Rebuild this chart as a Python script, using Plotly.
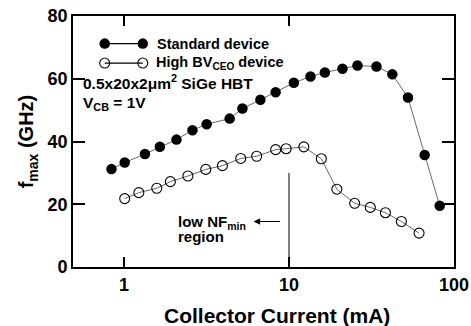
import numpy as np
import plotly.graph_objects as go

# Standard device
std_current = [0.84, 1.01, 1.34, 1.65, 2.08, 2.60, 3.17, 4.37, 5.22, 6.71, 8.30, 10.7, 13.5, 16.5, 21.1, 26.0, 33.9, 42.3, 52.6, 66.4, 81.9]
std_fmax = [31.2, 33.3, 36.0, 38.3, 40.6, 43.6, 45.5, 47.3, 50.5, 53.3, 55.7, 58.7, 60.7, 62.0, 63.2, 64.2, 63.9, 61.4, 54.0, 35.7, 19.5]

# High BVCEO device
hbv_current = [1.01, 1.23, 1.58, 1.91, 2.44, 3.13, 3.95, 5.10, 6.37, 8.30, 9.61, 12.3, 15.7, 19.5, 25.0, 31.1, 38.4, 48.0, 61.4]
hbv_fmax = [21.8, 23.7, 25.1, 27.2, 29.0, 31.1, 32.3, 34.6, 35.3, 37.4, 37.7, 38.3, 34.5, 24.8, 20.3, 19.0, 17.3, 14.5, 10.8]

x_ticks = [1, 10, 100]
y_ticks = [0, 20, 40, 60, 80]

FONT = "Liberation Sans"
fig = go.Figure()
fig.add_trace(go.Scatter(x=std_current, y=std_fmax, mode="lines+markers",
                         line=dict(color="black", width=0.6),
                         marker=dict(symbol="circle", size=10.5, color="black"),
                         showlegend=False))
fig.add_trace(go.Scatter(x=hbv_current, y=hbv_fmax, mode="lines+markers",
                         line=dict(color="black", width=0.6),
                         marker=dict(symbol="circle-open", size=10, color="black", line=dict(width=1.1)),
                         showlegend=False))

# legend samples
fig.add_trace(go.Scatter(x=[0.764, 1.30], y=[71.2, 71.2], mode="lines+markers",
                         line=dict(color="black", width=1.2),
                         marker=dict(symbol="circle", size=10.5, color="black"), showlegend=False,
                         hoverinfo="skip"))
fig.add_trace(go.Scatter(x=[0.764, 1.30], y=[65.0, 65.0], mode="lines+markers",
                         line=dict(color="black", width=1.2),
                         marker=dict(symbol="circle-open", size=10, color="black", line=dict(width=1.1)),
                         showlegend=False, hoverinfo="skip"))

def tfont(s):
    return dict(family=FONT, size=s, color="black", weight="bold")

anns = [
    dict(x=np.log10(1.55), y=71.2, text="Standard device", xanchor="left", yanchor="middle", showarrow=False, font=tfont(14.5)),
    dict(x=np.log10(1.51), y=65.0, text="High BV<sub>CEO</sub> device", xanchor="left", yanchor="middle", showarrow=False, font=tfont(14.5)),
    dict(x=np.log10(0.547), y=58.9, text="0.5x20x2μm<sup>2</sup> SiGe HBT", xanchor="left", yanchor="middle", showarrow=False, font=tfont(15.5)),
    dict(x=np.log10(0.547), y=52.2, text="V<sub>CB</sub> = 1V", xanchor="left", yanchor="middle", showarrow=False, font=tfont(15.5)),
    dict(x=np.log10(2.06), y=14.3, text="low NF<sub>min</sub>", xanchor="left", yanchor="middle", showarrow=False, font=tfont(15)),
    dict(x=np.log10(2.06), y=9.8, text="region", xanchor="left", yanchor="middle", showarrow=False, font=tfont(15)),
    dict(x=np.log10(6.1), y=14.5, ax=np.log10(9.0), ay=14.5, axref="x", ayref="y", xref="x", yref="y",
         text="", showarrow=True, arrowhead=2, arrowsize=1.3, arrowwidth=1, arrowcolor="black"),
    dict(x=0.535, y=-0.195, xref="paper", yref="paper", text="Collector Current (mA)", showarrow=False,
         xanchor="center", yanchor="middle", font=tfont(21)),
]
fig.update_layout(annotations=anns)
fig.add_shape(type="line", x0=10, x1=10, y0=0, y1=30, xref="x", yref="y", line=dict(color="black", width=1))

fig.update_layout(
    width=471, height=326,
    margin=dict(l=73, r=17, t=16, b=59),
    plot_bgcolor="white", paper_bgcolor="white",
    font=dict(family=FONT, color="black"),
    xaxis=dict(type="log", range=[-0.309, 2.0], tickmode="array", tickvals=x_ticks, ticktext=[str(v) for v in x_ticks],
               automargin=False,
               ticks="inside", ticklen=10, tickwidth=2, tickcolor="black",
               showline=True, linewidth=1.8, linecolor="black", mirror="allticks",
               showgrid=False, zeroline=False,
               tickfont=tfont(18)),
    yaxis=dict(range=[0, 80], tickmode="array", tickvals=y_ticks,
               automargin=False,
               ticks="inside", ticklen=12, tickwidth=2, tickcolor="black",
               showline=True, linewidth=1.8, linecolor="black", mirror="allticks",
               showgrid=False, zeroline=False,
               tickfont=tfont(18),
               title=dict(text="f<sub>max</sub> (GHz)", font=tfont(20), standoff=8)),
)
fig.write_html("out.html")
